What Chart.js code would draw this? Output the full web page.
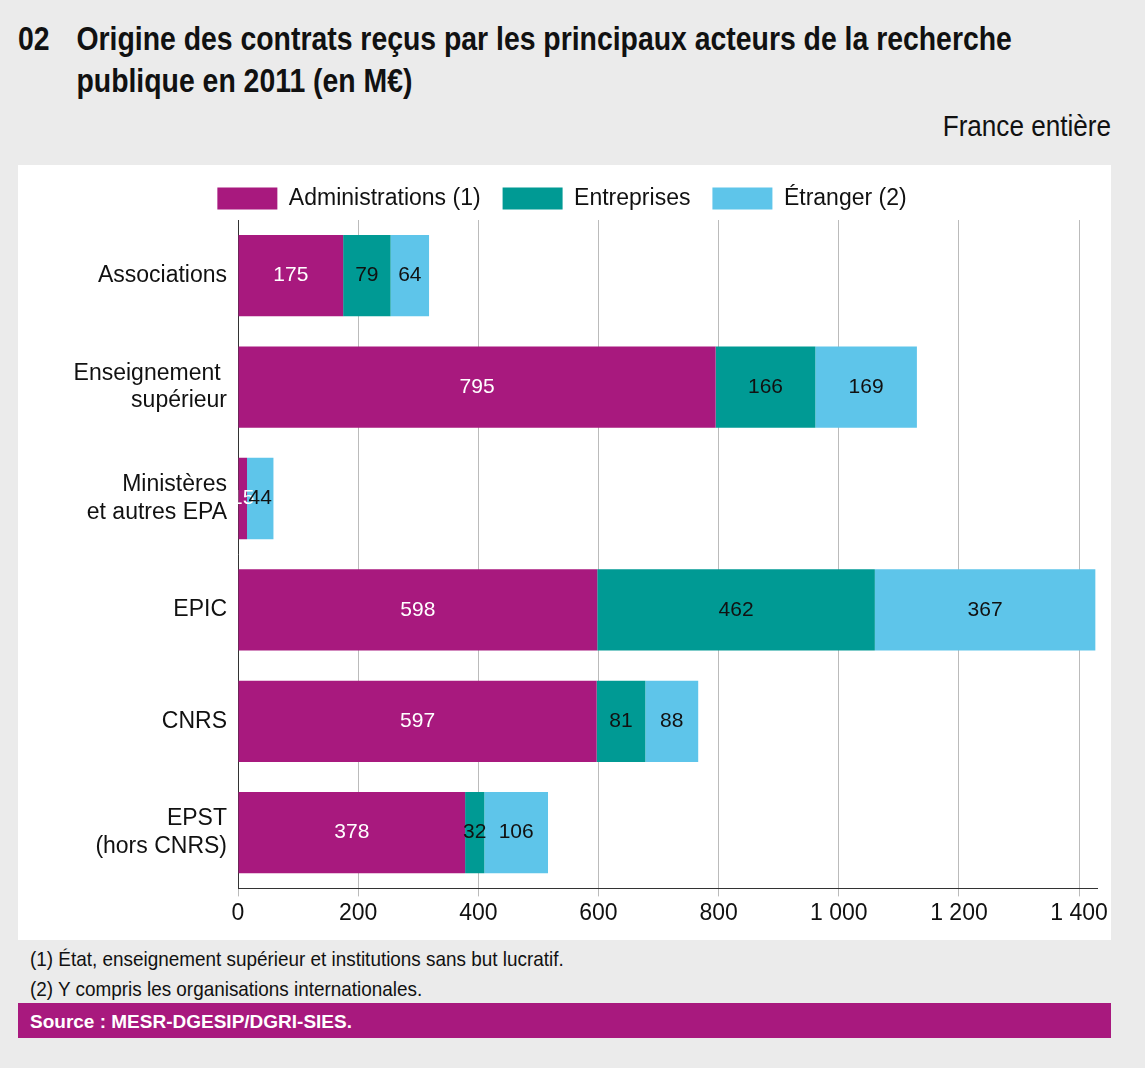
<!DOCTYPE html>
<html><head><meta charset="utf-8">
<script src="https://cdn.jsdelivr.net/npm/chart.js@4"></script>
<style>
body{margin:0;background:#ebebeb;font-family:"Liberation Sans",Arial,sans-serif;width:1145px;height:1068px;position:relative;overflow:hidden}
#t{position:absolute;left:18px;top:18px;font-size:33px;font-weight:bold;line-height:42px;color:#111;white-space:nowrap;transform:scaleX(0.86);transform-origin:left top}
#t span{display:inline-block;width:68px}
#fr{position:absolute;right:34px;top:110px;font-size:29px;color:#111;transform:scaleX(0.9);transform-origin:right top}
#panel{position:absolute;left:18px;top:165px;width:1093px;height:775px;background:#fff}
#n{position:absolute;left:30px;top:944px;font-size:21px;line-height:30px;color:#111;white-space:nowrap;transform:scaleX(0.9);transform-origin:left top}
#src{position:absolute;left:18px;top:1003px;width:1093px;height:35px;background:#a8197e;color:#fff;font-weight:bold;font-size:19px;line-height:37px;padding-left:12px;box-sizing:border-box}
</style></head><body>
<div id="t"><span>02</span>Origine des contrats reçus par les principaux acteurs de la recherche<br><span></span>publique en 2011 (en M€)</div>
<div id="fr">France entière</div>
<div id="panel"><canvas id="c" width="1093" height="775"></canvas></div>
<div id="n">(1) État, enseignement supérieur et institutions sans but lucratif.<br>(2) Y compris les organisations internationales.</div>
<div id="src">Source : MESR-DGESIP/DGRI-SIES.</div>
<script>
const categories=[["Associations"],["Enseignement ","supérieur"],["Ministères","et autres EPA"],["EPIC"],["CNRS"],["EPST","(hors CNRS)"]];
const administrations=[175,795,15,598,597,378];
const entreprises=[79,166,0,462,81,32];
const etranger=[64,169,44,367,88,106];
const seriesNames=["Administrations (1)","Entreprises","Étranger (2)"];
const colors=["#a8197e","#009a94","#5ec5ea"];
const font='"Liberation Sans",Arial,sans-serif';
const labelsPlugin={id:'lbl',afterDatasetsDraw(ch){const c=ch.ctx;c.save();c.font='21px '+font;c.textAlign='center';c.textBaseline='middle';
ch.data.datasets.forEach((ds,i)=>{ch.getDatasetMeta(i).data.forEach((b,j)=>{const v=ds.data[j];if(!v)return;
c.fillStyle=i==0?'#fff':'#111';const x=(b.x+b.base)/2;c.fillText(String(v),x,b.y);});});c.restore();}};
new Chart(document.getElementById('c'),{type:'bar',
data:{labels:categories,datasets:[administrations,entreprises,etranger].map((d,i)=>({label:seriesNames[i],data:d,backgroundColor:colors[i],barPercentage:0.73,categoryPercentage:1}))},
options:{indexAxis:'y',responsive:false,animation:false,
layout:{padding:{left:0,right:5,top:0,bottom:10}},
plugins:{legend:{labels:{boxWidth:60,boxHeight:22,font:{family:font,size:23},color:'#111',padding:22}},tooltip:{enabled:false}},
scales:{x:{stacked:true,min:0,max:1430,afterBuildTicks:s=>{s.ticks=[0,200,400,600,800,1000,1200,1400].map(v=>({value:v}));},
ticks:{autoSkip:false,font:{family:font,size:23},color:'#111',callback:(v,i,t)=>String(t[i].value).replace(/\B(?=(\d{3})+(?!\d))/g,' ')},
grid:{color:'#bbb',tickLength:8},border:{color:'#333'}},
y:{stacked:true,afterFit:s=>{s.width=220;},ticks:{font:{family:font,size:23},color:'#111'},grid:{display:false},border:{color:'#333'}}}},
plugins:[labelsPlugin]});
</script></body></html>
